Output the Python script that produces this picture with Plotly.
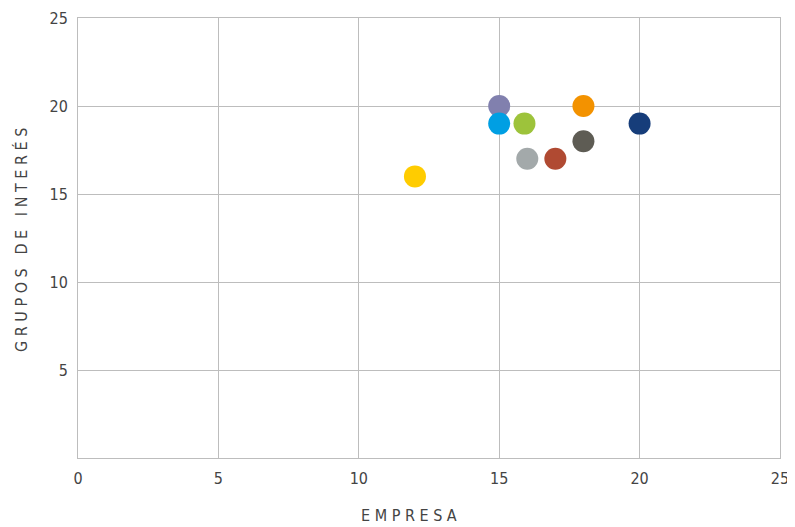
import plotly.graph_objects as go

empresa = [15, 15, 15.9, 18, 20, 16, 17, 18, 12]
grupos = [20, 19, 19, 20, 19, 17, 17, 18, 16]
colores = ["#8180AE", "#009FE3", "#9DC33B", "#F39200", "#163D7A",
           "#A3A9AA", "#B04A32", "#5E5C54", "#FFCC00"]
x_ticks = [0, 5, 10, 15, 20, 25]
y_ticks = [5, 10, 15, 20, 25]

font_fam = "DejaVu Sans Condensed, Roboto, sans-serif"

# page is offset by the 8px body margin
W, H = 787, 519
ML, MR, MT, MB = 70, 15, 10, 69
pw, ph = W - ML - MR, H - MT - MB

fig = go.Figure(go.Scatter(
    x=empresa, y=grupos, mode="markers",
    marker=dict(size=22, color=colores, line=dict(width=0), opacity=1),
    hoverinfo="skip", showlegend=False))

fig.update_layout(
    width=W, height=H,
    margin=dict(l=ML, r=MR, t=MT, b=MB),
    paper_bgcolor="white", plot_bgcolor="white",
    font=dict(family=font_fam, color="#444444", size=16),
    xaxis=dict(range=[0, 25], tickvals=x_ticks, showgrid=True, gridcolor="#BDBDBD",
               gridwidth=1, showline=True, linecolor="#BDBDBD", mirror=True,
               zeroline=False, ticks="", ticklabelstandoff=6, automargin=False,
               ticklabeloverflow="allow"),
    yaxis=dict(range=[0, 25], tickvals=y_ticks, showgrid=True, gridcolor="#BDBDBD",
               gridwidth=1, showline=True, linecolor="#BDBDBD", mirror=True,
               zeroline=False, ticks="", ticklabelstandoff=6, automargin=False,
               ticklabeloverflow="allow"),
)
# titles placed in pixel terms (converted to paper coordinates)
fig.add_annotation(text="E M P R E S A", xref="paper", yref="paper",
                   x=(401 - ML) / pw, y=((H - MB) - 507) / ph,
                   showarrow=False, xanchor="center", yanchor="middle",
                   font=dict(size=16, color="#444444"))
fig.add_annotation(text="G R U P O S \u00a0 D E \u00a0 I N T E R É S", xref="paper", yref="paper",
                   x=(13 - ML) / pw, y=((H - MB) - 232) / ph, textangle=-90,
                   showarrow=False, xanchor="center", yanchor="middle",
                   font=dict(size=16, color="#444444"))
fig.write_html("out.html")
